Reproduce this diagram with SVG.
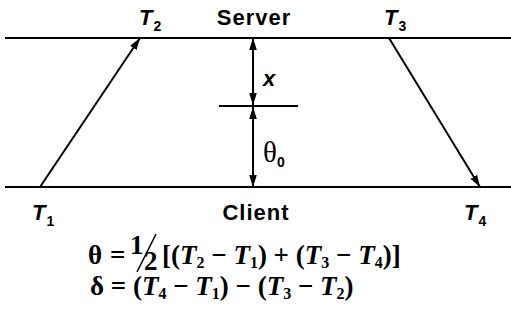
<svg xmlns="http://www.w3.org/2000/svg" width="511" height="321" viewBox="0 0 511 321">
<defs>
<marker id="ah" viewBox="0 0 10 10" refX="10" refY="5" markerWidth="12" markerHeight="12" markerUnits="userSpaceOnUse" orient="auto-start-reverse">
<path d="M0,1.8 L10,5 L0,8.2 Z" fill="#000"/>
</marker>
</defs>
<style>
.ln{stroke:#000;stroke-width:2;fill:none}
.lab{font-family:"Liberation Sans",Arial,sans-serif;font-weight:bold;font-size:22px;letter-spacing:1px;fill:#000}
.tv{font-family:"Liberation Sans",Arial,sans-serif;font-weight:bold;font-style:italic;font-size:22px;fill:#000}
.sub{font-style:normal;font-size:14px}
.f{font-family:"Liberation Serif","Times New Roman",serif;font-weight:bold;font-size:27px;fill:#000}
.fi{font-style:italic}
.fs{font-size:16px;font-style:normal}
</style>
<rect width="511" height="321" fill="#fff"/>
<g id="server-line"><line class="ln" x1="5" y1="38" x2="511" y2="38"/></g>
<g id="client-line"><line class="ln" x1="5" y1="187" x2="511" y2="187"/></g>
<g id="connectors">
<line class="ln" x1="40" y1="187" x2="140" y2="38" marker-end="url(#ah)" stroke-width="1.5"/>
<line class="ln" x1="389" y1="38" x2="480" y2="187" marker-end="url(#ah)" stroke-width="1.5"/>
<line class="ln" x1="253" y1="38" x2="253" y2="105" marker-start="url(#ah)" marker-end="url(#ah)" stroke-width="1.5"/>
<line class="ln" x1="219" y1="106" x2="298" y2="106" stroke-width="1"/>
<line class="ln" x1="253" y1="107" x2="253" y2="187" marker-start="url(#ah)" marker-end="url(#ah)" stroke-width="1.5"/>
</g>
<g id="T2"><text class="tv" x="139" y="25">T<tspan class="sub" dx="1" dy="6">2</tspan></text></g>
<g id="Server"><text class="lab" x="254" y="25" text-anchor="middle">Server</text></g>
<g id="T3"><text class="tv" x="384" y="25">T<tspan class="sub" dx="1" dy="6">3</tspan></text></g>
<g id="x"><text class="tv" x="263" y="86" font-size="24">x</text></g>
<g id="theta0"><text x="263" y="162" font-family="Liberation Serif,serif" font-size="29" fill="#000">θ<tspan font-family="Liberation Sans,sans-serif" font-weight="bold" font-size="14" dy="5">0</tspan></text></g>
<g id="T1"><text class="tv" x="32" y="220">T<tspan class="sub" dx="1" dy="6">1</tspan></text></g>
<g id="Client"><text class="lab" x="256" y="220" text-anchor="middle">Client</text></g>
<g id="T4"><text class="tv" x="464" y="220">T<tspan class="sub" dx="1" dy="6">4</tspan></text></g>
<g id="formula-theta">
<text class="f" x="88" y="264">θ</text>
<text class="f" x="110" y="264">=</text>
<text class="f" x="130" y="254" font-size="27">1</text>
<line x1="156" y1="234" x2="137" y2="272" stroke="#000" stroke-width="1.6"/>
<text class="f" x="144" y="270" font-size="26">2</text>
<text class="f" x="162" y="264" font-size="28">[(<tspan class="fi">T</tspan><tspan class="fs" dy="4">2</tspan><tspan dy="-4"> − </tspan><tspan class="fi">T</tspan><tspan class="fs" dy="4">1</tspan><tspan dy="-4">) + (</tspan><tspan class="fi">T</tspan><tspan class="fs" dy="4">3</tspan><tspan dy="-4"> − </tspan><tspan class="fi">T</tspan><tspan class="fs" dy="4">4</tspan><tspan dy="-4">)]</tspan></text>
</g>
<g id="formula-delta">
<text class="f" x="90" y="295">δ = (<tspan class="fi">T</tspan><tspan class="fs" dy="4">4</tspan><tspan dy="-4"> − </tspan><tspan class="fi">T</tspan><tspan class="fs" dy="4">1</tspan><tspan dy="-4">) − (</tspan><tspan class="fi">T</tspan><tspan class="fs" dy="4">3</tspan><tspan dy="-4"> − </tspan><tspan class="fi">T</tspan><tspan class="fs" dy="4">2</tspan><tspan dy="-4">)</tspan></text>
</g>
</svg>
